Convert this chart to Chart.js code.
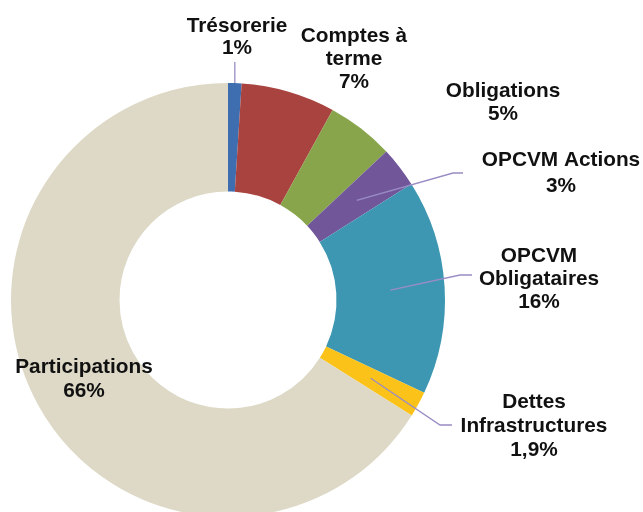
<!DOCTYPE html>
<html>
<head>
<meta charset="utf-8">
<script src="https://cdn.jsdelivr.net/npm/chart.js@4"></script>
<style>
    html, body { margin: 0; padding: 0; background: #fff; }
    #wrap { width: 643px; height: 512px; overflow: hidden; position: relative; }
    canvas { display: block; }
</style>
</head>
<body>
<div id="wrap">
    <canvas id="repartitionChart" width="643" height="522"></canvas>
</div>
<script>
const categories = [
    ['Trésorerie'],
    ['Comptes à', 'terme'],
    ['Obligations'],
    ['OPCVM Actions'],
    ['OPCVM', 'Obligataires'],
    ['Dettes', 'Infrastructures'],
    ['Participations']
];
const values = [1, 7, 5, 3, 16, 1.9, 66];

const colors = ['#3f6eb0', '#a9433f', '#88a54c', '#71579a', '#3d97b2', '#fbc21a', '#ddd9c6'];

// where each label sits (centre x, baselines) and its leader line, if any
const labelLayout = [
    { x: 237, y: [32, 54], leader: { from: 'outer', vertical: 62 } },
    { x: 354, y: [42, 65, 88] },
    { x: 503, y: [97, 120] },
    { x: 561, y: [166, 192], leader: { from: 'mid', points: [[453, 173], [463, 173]] } },
    { x: 539, y: [262, 285, 308], leader: { from: 'mid', points: [[460, 275], [472, 275]] } },
    { x: 534, y: [408, 432, 456], leader: { from: 'mid', points: [[440, 425], [452, 425]] } },
    { x: 84, y: [373, 397] }
];

function pct(v) {
    return String(v).replace('.', ',') + '%';
}

const labelPlugin = {
    id: 'sliceLabels',
    afterDatasetsDraw(chart) {
        const ctx = chart.ctx;
        const arcs = chart.getDatasetMeta(0).data;
        ctx.save();
        arcs.forEach((arc, i) => {
            const lay = labelLayout[i];
            const p = arc.getProps(['x', 'y', 'startAngle', 'endAngle', 'innerRadius', 'outerRadius'], true);
            const mid = (p.startAngle + p.endAngle) / 2;

            if (lay.leader) {
                const r = lay.leader.from === 'outer' ? p.outerRadius : (p.innerRadius + p.outerRadius) / 2;
                const sx = p.x + Math.cos(mid) * r;
                const sy = p.y + Math.sin(mid) * r;
                ctx.strokeStyle = '#9a8cc4';
                ctx.lineWidth = 1.3;
                ctx.beginPath();
                ctx.moveTo(sx, sy);
                if (lay.leader.vertical) {
                    ctx.lineTo(sx, lay.leader.vertical);
                } else {
                    lay.leader.points.forEach(pt => ctx.lineTo(pt[0], pt[1]));
                }
                ctx.stroke();
            }

            const lines = categories[i].concat([pct(values[i])]);
            ctx.fillStyle = '#111';
            ctx.font = 'bold 20.8px "Liberation Sans", Arial, sans-serif';
            ctx.textAlign = 'center';
            ctx.textBaseline = 'alphabetic';
            lines.forEach((txt, k) => ctx.fillText(txt, lay.x, lay.y[k]));
        });
        ctx.restore();
    }
};

new Chart(document.getElementById('repartitionChart'), {
    type: 'doughnut',
    data: {
        labels: categories,
        datasets: [{
            data: values,
            backgroundColor: colors,
            borderWidth: 0
        }]
    },
    options: {
        responsive: false,
        animation: false,
        cutout: '50%',
        layout: {
            padding: { left: 11, top: 83, right: 198, bottom: 5 }
        },
        plugins: {
            legend: { display: false },
            tooltip: { enabled: false }
        }
    },
    plugins: [labelPlugin]
});
</script>
</body>
</html>
